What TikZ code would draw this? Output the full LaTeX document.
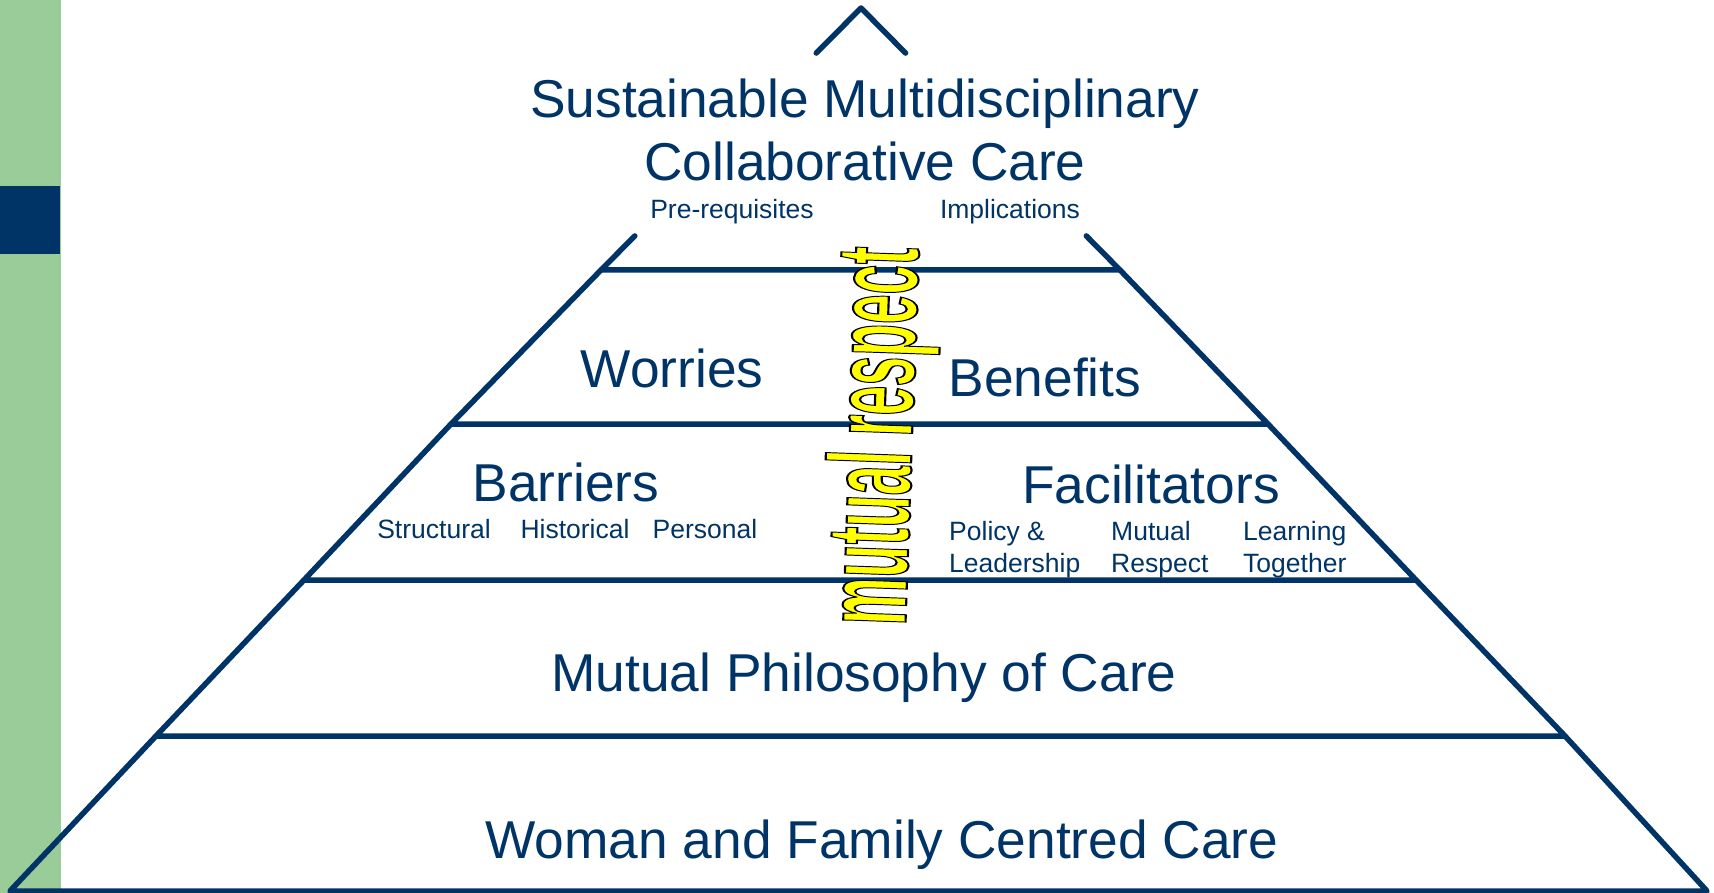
\documentclass[tikz,border=0pt]{standalone}
\usepackage{fontspec}
\setmainfont{Liberation Sans}
\newfontfamily\wordart[FakeBold=1.8]{Liberation Sans Bold}
\usetikzlibrary{calc}
\definecolor{navy}{RGB}{0,51,102}
\definecolor{leafgreen}{RGB}{153,204,153}
\definecolor{wordyellow}{RGB}{255,255,0}
\begin{document}
\begin{tikzpicture}[x=1pt,y=-1pt,
  edge/.style={draw=navy,line width=5.5pt,line cap=round,line join=round},
  big/.style={text=navy,font=\fontsize{53.3}{63}\selectfont,inner sep=0pt,anchor=base},
  small/.style={text=navy,font=\fontsize{26.5}{32}\selectfont,inner sep=0pt,anchor=base},
  smallw/.style={small,anchor=base west}]
\useasboundingbox (0,0) rectangle (1714,893);
\fill[leafgreen] (0,0) rectangle (61,893);
\fill[navy] (0,186) rectangle (60,254);
\coordinate (apex) at (861,8);
\coordinate (l1) at (601,270); \coordinate (r1) at (1120,270);
\coordinate (l2) at (451,424); \coordinate (r2) at (1268,424);
\coordinate (l3) at (304,580); \coordinate (r3) at (1416,580);
\coordinate (l4) at (156,736); \coordinate (r4) at (1565,736);
\coordinate (l5) at (10,891); \coordinate (r5) at (1707,891);
\draw[edge] ($(apex)!0.172!(l1)$) -- (apex) -- ($(apex)!0.172!(r1)$);
\draw[edge] ($(apex)!0.87!(l1)$) -- (l1) -- (r1) -- ($(apex)!0.87!(r1)$);
\draw[edge] (l1) -- (l2) -- (r2) -- (r1);
\draw[edge] (l2) -- (l3) -- (r3) -- (r2);
\draw[edge] (l3) -- (l4) -- (r4) -- (r3);
\draw[edge] (l4) -- (l5) -- (r5) -- (r4);
\node[big] (t1) at (865,118) {Sustainable Multidisciplinary};
\node[big] (t2) at (865,181) {Collaborative Care};
\node[small] (pre) at (732,219) {Pre-requisites};
\node[small] (imp) at (1010,219) {Implications};
\node[big] (wor) at (672,387) {Worries};
\node[big] (ben) at (1045,396) {Benefits};
\node[big] (bar) at (566,501) {Barriers};
\node[big] (fac) at (1151,503) {Facilitators};
\node[small] (str) at (434,538) {Structural};
\node[small] (his) at (575,538) {Historical};
\node[small] (per) at (705,538) {Personal};
\node[smallw] (pol) at (949,540) {Policy \&};
\node[smallw] (lea) at (949,572) {Leadership};
\node[smallw] (mut) at (1111,540) {Mutual};
\node[smallw] (res) at (1111,572) {Respect};
\node[smallw] (lrn) at (1243,540) {Learning};
\node[smallw] (tog) at (1243,572) {Together};
\node[big] (phi) at (864,691) {Mutual Philosophy of Care};
\node[big] (wom) at (882,858) {Woman and Family Centred Care};
\node[rotate=88,anchor=base,inner sep=0pt,font=\wordart\fontsize{118}{118}\selectfont] (mr) at (912,437)
  {\scalebox{0.45}[1]{\textcolor{wordyellow}{\special{pdf:literal direct 0 0 0 RG}mutual respect}}};
\end{tikzpicture}
\end{document}
